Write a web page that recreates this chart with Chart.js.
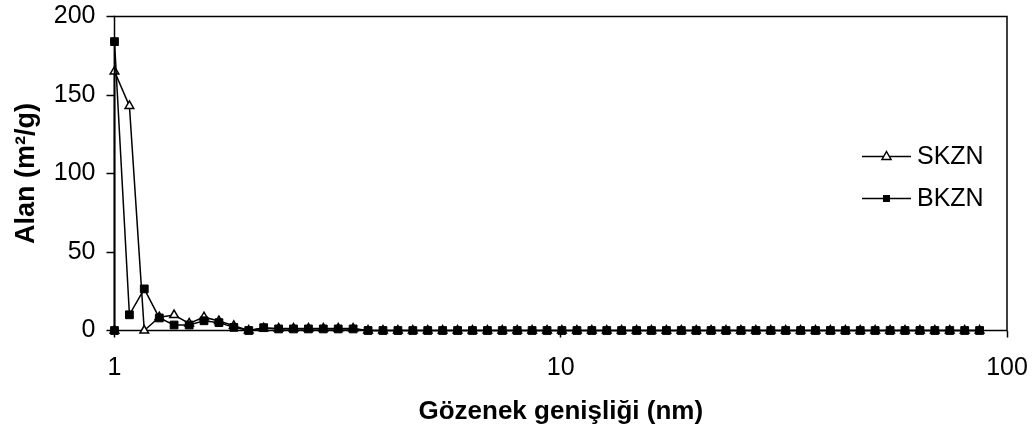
<!DOCTYPE html>
<html>
<head>
<meta charset="utf-8">
<script src="https://cdn.jsdelivr.net/npm/chart.js@4.4.1/dist/chart.umd.min.js"></script>
<style>
  html, body { margin: 0; padding: 0; background: #fff; }
  #wrap { width: 1036px; height: 434px; }
</style>
</head>
<body>
<div id="wrap"><canvas id="c" width="1036" height="434"></canvas></div>
<script>
// Pore width (nm)
const poreWidth = [1, 1, 1.08, 1.166, 1.26, 1.36, 1.47, 1.587, 1.714, 1.851, 1.999,
  2.159, 2.332, 2.518, 2.72, 2.937, 3.172, 3.426, 3.7, 3.996, 4.316,
  4.661, 5.034, 5.437, 5.872, 6.341, 6.849, 7.396, 7.988, 8.627, 9.317,
  10.06, 10.87, 11.74, 12.68, 13.69, 14.79, 15.97, 17.25, 18.63, 20.12,
  21.72, 23.46, 25.34, 27.37, 29.56, 31.92, 34.47, 37.23, 40.21, 43.43,
  46.9, 50.65, 54.71, 59.08, 63.81, 68.91, 74.43, 80.38, 86.81];

const skzn = [0, 165, 143, 0, 8.5, 9.8, 4.5, 8.5, 6, 3, 0,
  1.5, 1.3, 1.3, 1.3, 1.3, 1.3, 1.2, 0, 0, 0,
  0, 0, 0, 0, 0, 0, 0, 0, 0, 0,
  0, 0, 0, 0, 0, 0, 0, 0, 0, 0,
  0, 0, 0, 0, 0, 0, 0, 0, 0, 0,
  0, 0, 0, 0, 0, 0, 0, 0, 0];

const bkzn = [0, 184, 10, 26.5, 8, 3.5, 3.5, 6.2, 5, 2, 0,
  1.8, 1, 1, 1, 1, 1, 1, 0, 0, 0,
  0, 0, 0, 0, 0, 0, 0, 0, 0, 0,
  0, 0, 0, 0, 0, 0, 0, 0, 0, 0,
  0, 0, 0, 0, 0, 0, 0, 0, 0, 0,
  0, 0, 0, 0, 0, 0, 0, 0, 0];

const seriesNames = ['SKZN', 'BKZN'];
const xTickValues = [1, 10, 100];
const yTicks = [0, 50, 100, 150, 200];
const xTitle = 'Gözenek genişliği (nm)';
const yTitle = 'Alan (m²/g)';

const FONT = '"Liberation Sans", Arial, sans-serif';

function toPoints(xs, ys) { return xs.map((x, i) => ({ x: x, y: ys[i] })); }

const boxPlugin = {
  id: 'plotBox',
  beforeDatasetsDraw(chart) {
    const { ctx, chartArea: a } = chart;
    ctx.save();
    ctx.strokeStyle = '#000';
    ctx.lineWidth = 1.5;
    ctx.strokeRect(a.left, a.top, a.right - a.left, a.bottom - a.top);
    ctx.restore();
  }
};

const legendPlugin = {
  id: 'innerLegend',
  afterDraw(chart) {
    const { ctx, chartArea: a } = chart;
    const x0 = a.right - 145, x1 = a.right - 96, xm = (x0 + x1) / 2;
    const ys = [a.top + 140, a.top + 182];
    ctx.save();
    [0, 1].forEach((i) => {
      const ds = chart.data.datasets[i];
      const y = ys[i];
      ctx.strokeStyle = '#000';
      ctx.lineWidth = 1.5;
      ctx.beginPath(); ctx.moveTo(x0, y); ctx.lineTo(x1, y); ctx.stroke();
      if (ds.pointStyle === 'triangle') {
        ctx.fillStyle = '#fff';
        ctx.beginPath();
        ctx.moveTo(xm, y - 5); ctx.lineTo(xm + 4.5, y + 3); ctx.lineTo(xm - 4.5, y + 3); ctx.closePath();
        ctx.fill(); ctx.stroke();
      } else {
        ctx.fillStyle = '#000';
        ctx.fillRect(xm - 3.5, y - 3.5, 7, 7);
      }
      ctx.fillStyle = '#000';
      ctx.font = '25px ' + FONT;
      ctx.textBaseline = 'middle';
      ctx.textAlign = 'left';
      ctx.fillText(ds.label, x1 + 6, y + 1);
    });
    ctx.restore();
  }
};

new Chart(document.getElementById('c'), {
  type: 'scatter',
  data: {
    datasets: [
      {
        label: seriesNames[0],
        data: toPoints(poreWidth, skzn),
        order: 1,
        showLine: true,
        borderColor: '#000',
        borderWidth: 1.5,
        pointStyle: 'triangle',
        pointRadius: 5,
        pointBackgroundColor: '#fff',
        pointBorderColor: '#000',
        pointBorderWidth: 1.5,
        clip: false
      },
      {
        label: seriesNames[1],
        data: toPoints(poreWidth, bkzn),
        order: 0,
        showLine: true,
        borderColor: '#000',
        borderWidth: 1.5,
        pointStyle: 'rect',
        pointRadius: 5.5,
        pointBackgroundColor: '#000',
        pointBorderColor: '#000',
        pointBorderWidth: 1,
        clip: false
      }
    ]
  },
  options: {
    responsive: false,
    animation: false,
    devicePixelRatio: 1,
    layout: { padding: { top: 16.5, right: 29, left: 0, bottom: 0 } },
    plugins: {
      legend: { display: false },
      tooltip: { enabled: false }
    },
    scales: {
      x: {
        type: 'logarithmic',
        min: 1,
        max: 100,
        afterBuildTicks(scale) { scale.ticks = xTickValues.map(v => ({ value: v })); },
        afterFit(scale) { scale.height = 103.5; scale.paddingLeft = 0; scale.paddingRight = 0; },
        ticks: {
          color: '#000',
          font: { family: FONT, size: 25 },
          padding: 16,
          maxRotation: 0,
          callback: (v) => String(v)
        },
        grid: { drawOnChartArea: false, color: '#000', tickLength: 7, tickWidth: 1.5 },
        border: { display: false },
        title: {
          display: true,
          text: xTitle,
          color: '#000',
          font: { family: FONT, size: 26, weight: 'bold' },
          padding: { top: 0, bottom: 7 }
        }
      },
      y: {
        type: 'linear',
        min: 0,
        max: 200,
        afterBuildTicks(scale) { scale.ticks = yTicks.map(v => ({ value: v })); },
        afterFit(scale) { scale.width = 114.5; scale.paddingTop = 0; scale.paddingBottom = 0; },
        ticks: {
          color: '#000',
          font: { family: FONT, size: 25 },
          padding: 11
        },
        grid: { drawOnChartArea: false, color: '#000', tickLength: 8, tickWidth: 1.5 },
        border: { display: false },
        title: {
          display: true,
          text: yTitle,
          color: '#000',
          font: { family: FONT, size: 27, weight: 'bold' },
          padding: { top: 10, bottom: 0 }
        }
      }
    }
  },
  plugins: [boxPlugin, legendPlugin]
});
</script>
</body>
</html>
